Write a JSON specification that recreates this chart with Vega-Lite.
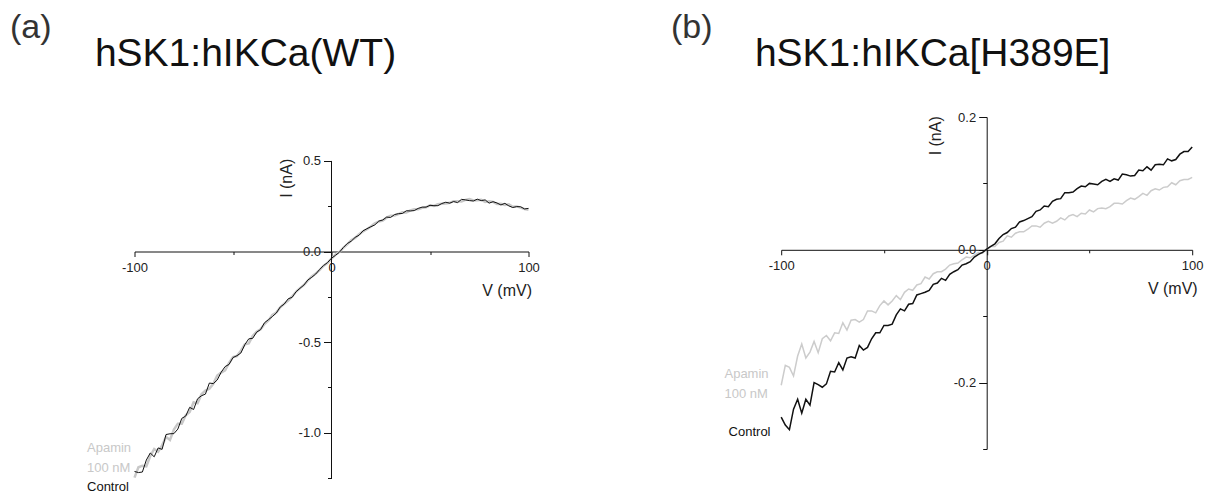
{
  "$schema": "https://vega.github.io/schema/vega-lite/v6.json",
  "padding": {"left": 9.5, "top": 11, "right": 5, "bottom": 0},
  "background": "white",
  "config": {
    "view": {"stroke": null},
    "axis": {"grid": false, "domainColor": "#111111", "tickColor": "#111111", "labelColor": "#222222", "titleColor": "#222222", "labelFont": "Liberation Sans", "titleFont": "Liberation Sans", "labelFontSize": 13, "titleFontSize": 16, "titleFontWeight": "normal", "labelFlush": false, "labelOverlap": false, "domainWidth": 1, "tickWidth": 1},
    "text": {"font": "Liberation Sans"}
  },
  "datasets": {
    "a": [
      {"V": -100, "Control": -1.214, "Apamin": -1.248},
      {"V": -98, "Control": -1.220, "Apamin": -1.191},
      {"V": -96, "Control": -1.217, "Apamin": -1.182},
      {"V": -94, "Control": -1.151, "Apamin": -1.186},
      {"V": -92, "Control": -1.112, "Apamin": -1.129},
      {"V": -90, "Control": -1.133, "Apamin": -1.090},
      {"V": -88, "Control": -1.084, "Apamin": -1.105},
      {"V": -86, "Control": -1.092, "Apamin": -1.070},
      {"V": -84, "Control": -1.010, "Apamin": -1.023},
      {"V": -82, "Control": -1.006, "Apamin": -1.040},
      {"V": -80, "Control": -1.005, "Apamin": -0.983},
      {"V": -78, "Control": -0.980, "Apamin": -0.950},
      {"V": -76, "Control": -0.921, "Apamin": -0.950},
      {"V": -74, "Control": -0.908, "Apamin": -0.904},
      {"V": -72, "Control": -0.860, "Apamin": -0.886},
      {"V": -70, "Control": -0.872, "Apamin": -0.832},
      {"V": -68, "Control": -0.813, "Apamin": -0.838},
      {"V": -66, "Control": -0.796, "Apamin": -0.788},
      {"V": -64, "Control": -0.787, "Apamin": -0.768},
      {"V": -62, "Control": -0.726, "Apamin": -0.758},
      {"V": -60, "Control": -0.729, "Apamin": -0.730},
      {"V": -58, "Control": -0.709, "Apamin": -0.685},
      {"V": -56, "Control": -0.666, "Apamin": -0.668},
      {"V": -54, "Control": -0.635, "Apamin": -0.656},
      {"V": -52, "Control": -0.623, "Apamin": -0.615},
      {"V": -50, "Control": -0.585, "Apamin": -0.583},
      {"V": -48, "Control": -0.575, "Apamin": -0.577},
      {"V": -46, "Control": -0.560, "Apamin": -0.547},
      {"V": -44, "Control": -0.514, "Apamin": -0.512},
      {"V": -42, "Control": -0.482, "Apamin": -0.507},
      {"V": -40, "Control": -0.479, "Apamin": -0.466},
      {"V": -38, "Control": -0.445, "Apamin": -0.443},
      {"V": -36, "Control": -0.431, "Apamin": -0.429},
      {"V": -34, "Control": -0.393, "Apamin": -0.400},
      {"V": -32, "Control": -0.376, "Apamin": -0.380},
      {"V": -30, "Control": -0.359, "Apamin": -0.350},
      {"V": -28, "Control": -0.339, "Apamin": -0.337},
      {"V": -26, "Control": -0.306, "Apamin": -0.308},
      {"V": -24, "Control": -0.290, "Apamin": -0.288},
      {"V": -22, "Control": -0.261, "Apamin": -0.271},
      {"V": -20, "Control": -0.253, "Apamin": -0.248},
      {"V": -18, "Control": -0.222, "Apamin": -0.222},
      {"V": -16, "Control": -0.203, "Apamin": -0.202},
      {"V": -14, "Control": -0.185, "Apamin": -0.185},
      {"V": -12, "Control": -0.157, "Apamin": -0.160},
      {"V": -10, "Control": -0.142, "Apamin": -0.137},
      {"V": -8, "Control": -0.124, "Apamin": -0.122},
      {"V": -6, "Control": -0.099, "Apamin": -0.101},
      {"V": -4, "Control": -0.077, "Apamin": -0.078},
      {"V": -2, "Control": -0.061, "Apamin": -0.063},
      {"V": 0, "Control": -0.037, "Apamin": -0.039},
      {"V": 2, "Control": -0.021, "Apamin": -0.018},
      {"V": 4, "Control": -0.004, "Apamin": -0.002},
      {"V": 6, "Control": 0.022, "Apamin": 0.020},
      {"V": 8, "Control": 0.044, "Apamin": 0.039},
      {"V": 10, "Control": 0.057, "Apamin": 0.062},
      {"V": 12, "Control": 0.078, "Apamin": 0.075},
      {"V": 14, "Control": 0.090, "Apamin": 0.096},
      {"V": 16, "Control": 0.114, "Apamin": 0.111},
      {"V": 18, "Control": 0.126, "Apamin": 0.123},
      {"V": 20, "Control": 0.137, "Apamin": 0.138},
      {"V": 22, "Control": 0.147, "Apamin": 0.155},
      {"V": 24, "Control": 0.168, "Apamin": 0.165},
      {"V": 26, "Control": 0.174, "Apamin": 0.171},
      {"V": 28, "Control": 0.190, "Apamin": 0.187},
      {"V": 30, "Control": 0.188, "Apamin": 0.198},
      {"V": 32, "Control": 0.204, "Apamin": 0.199},
      {"V": 34, "Control": 0.209, "Apamin": 0.207},
      {"V": 36, "Control": 0.210, "Apamin": 0.217},
      {"V": 38, "Control": 0.225, "Apamin": 0.216},
      {"V": 40, "Control": 0.224, "Apamin": 0.227},
      {"V": 42, "Control": 0.226, "Apamin": 0.233},
      {"V": 44, "Control": 0.238, "Apamin": 0.233},
      {"V": 46, "Control": 0.245, "Apamin": 0.241},
      {"V": 48, "Control": 0.245, "Apamin": 0.244},
      {"V": 50, "Control": 0.255, "Apamin": 0.255},
      {"V": 52, "Control": 0.253, "Apamin": 0.252},
      {"V": 54, "Control": 0.253, "Apamin": 0.261},
      {"V": 56, "Control": 0.265, "Apamin": 0.264},
      {"V": 58, "Control": 0.272, "Apamin": 0.265},
      {"V": 60, "Control": 0.267, "Apamin": 0.269},
      {"V": 62, "Control": 0.276, "Apamin": 0.278},
      {"V": 64, "Control": 0.270, "Apamin": 0.278},
      {"V": 66, "Control": 0.288, "Apamin": 0.276},
      {"V": 68, "Control": 0.285, "Apamin": 0.285},
      {"V": 70, "Control": 0.281, "Apamin": 0.290},
      {"V": 72, "Control": 0.279, "Apamin": 0.282},
      {"V": 74, "Control": 0.289, "Apamin": 0.283},
      {"V": 76, "Control": 0.281, "Apamin": 0.286},
      {"V": 78, "Control": 0.285, "Apamin": 0.274},
      {"V": 80, "Control": 0.267, "Apamin": 0.277},
      {"V": 82, "Control": 0.275, "Apamin": 0.274},
      {"V": 84, "Control": 0.268, "Apamin": 0.263},
      {"V": 86, "Control": 0.257, "Apamin": 0.264},
      {"V": 88, "Control": 0.266, "Apamin": 0.257},
      {"V": 90, "Control": 0.252, "Apamin": 0.260},
      {"V": 92, "Control": 0.243, "Apamin": 0.247},
      {"V": 94, "Control": 0.248, "Apamin": 0.249},
      {"V": 96, "Control": 0.247, "Apamin": 0.242},
      {"V": 98, "Control": 0.235, "Apamin": 0.234},
      {"V": 100, "Control": 0.238, "Apamin": 0.230}
    ],
    "b": [
      {"V": -100, "Control": -0.252, "Apamin": -0.204},
      {"V": -98, "Control": -0.264, "Apamin": -0.174},
      {"V": -96, "Control": -0.271, "Apamin": -0.177},
      {"V": -94, "Control": -0.240, "Apamin": -0.190},
      {"V": -92, "Control": -0.225, "Apamin": -0.160},
      {"V": -90, "Control": -0.246, "Apamin": -0.142},
      {"V": -88, "Control": -0.225, "Apamin": -0.163},
      {"V": -86, "Control": -0.234, "Apamin": -0.154},
      {"V": -84, "Control": -0.200, "Apamin": -0.138},
      {"V": -82, "Control": -0.203, "Apamin": -0.155},
      {"V": -80, "Control": -0.207, "Apamin": -0.134},
      {"V": -78, "Control": -0.202, "Apamin": -0.129},
      {"V": -76, "Control": -0.183, "Apamin": -0.137},
      {"V": -74, "Control": -0.184, "Apamin": -0.125},
      {"V": -72, "Control": -0.170, "Apamin": -0.126},
      {"V": -70, "Control": -0.181, "Apamin": -0.110},
      {"V": -68, "Control": -0.163, "Apamin": -0.121},
      {"V": -66, "Control": -0.161, "Apamin": -0.106},
      {"V": -64, "Control": -0.163, "Apamin": -0.105},
      {"V": -62, "Control": -0.144, "Apamin": -0.109},
      {"V": -60, "Control": -0.151, "Apamin": -0.105},
      {"V": -58, "Control": -0.147, "Apamin": -0.092},
      {"V": -56, "Control": -0.134, "Apamin": -0.092},
      {"V": -54, "Control": -0.125, "Apamin": -0.095},
      {"V": -52, "Control": -0.125, "Apamin": -0.084},
      {"V": -50, "Control": -0.114, "Apamin": -0.077},
      {"V": -48, "Control": -0.114, "Apamin": -0.083},
      {"V": -46, "Control": -0.112, "Apamin": -0.077},
      {"V": -44, "Control": -0.098, "Apamin": -0.069},
      {"V": -42, "Control": -0.089, "Apamin": -0.075},
      {"V": -40, "Control": -0.092, "Apamin": -0.064},
      {"V": -38, "Control": -0.082, "Apamin": -0.059},
      {"V": -36, "Control": -0.081, "Apamin": -0.061},
      {"V": -34, "Control": -0.068, "Apamin": -0.053},
      {"V": -32, "Control": -0.066, "Apamin": -0.051},
      {"V": -30, "Control": -0.064, "Apamin": -0.041},
      {"V": -28, "Control": -0.061, "Apamin": -0.044},
      {"V": -26, "Control": -0.052, "Apamin": -0.036},
      {"V": -24, "Control": -0.050, "Apamin": -0.033},
      {"V": -22, "Control": -0.043, "Apamin": -0.033},
      {"V": -20, "Control": -0.046, "Apamin": -0.029},
      {"V": -18, "Control": -0.037, "Apamin": -0.023},
      {"V": -16, "Control": -0.033, "Apamin": -0.021},
      {"V": -14, "Control": -0.030, "Apamin": -0.020},
      {"V": -12, "Control": -0.023, "Apamin": -0.015},
      {"V": -10, "Control": -0.021, "Apamin": -0.011},
      {"V": -8, "Control": -0.018, "Apamin": -0.012},
      {"V": -6, "Control": -0.011, "Apamin": -0.008},
      {"V": -4, "Control": -0.007, "Apamin": -0.004},
      {"V": -2, "Control": -0.004, "Apamin": -0.005},
      {"V": 0, "Control": 0.001, "Apamin": 0.001},
      {"V": 2, "Control": 0.005, "Apamin": 0.005},
      {"V": 4, "Control": 0.009, "Apamin": 0.005},
      {"V": 6, "Control": 0.017, "Apamin": 0.011},
      {"V": 8, "Control": 0.023, "Apamin": 0.013},
      {"V": 10, "Control": 0.026, "Apamin": 0.021},
      {"V": 12, "Control": 0.032, "Apamin": 0.019},
      {"V": 14, "Control": 0.034, "Apamin": 0.025},
      {"V": 16, "Control": 0.042, "Apamin": 0.027},
      {"V": 18, "Control": 0.044, "Apamin": 0.027},
      {"V": 20, "Control": 0.047, "Apamin": 0.031},
      {"V": 22, "Control": 0.050, "Apamin": 0.036},
      {"V": 24, "Control": 0.058, "Apamin": 0.036},
      {"V": 26, "Control": 0.060, "Apamin": 0.034},
      {"V": 28, "Control": 0.066, "Apamin": 0.040},
      {"V": 30, "Control": 0.065, "Apamin": 0.043},
      {"V": 32, "Control": 0.073, "Apamin": 0.040},
      {"V": 34, "Control": 0.076, "Apamin": 0.043},
      {"V": 36, "Control": 0.077, "Apamin": 0.048},
      {"V": 38, "Control": 0.086, "Apamin": 0.045},
      {"V": 40, "Control": 0.086, "Apamin": 0.051},
      {"V": 42, "Control": 0.087, "Apamin": 0.053},
      {"V": 44, "Control": 0.092, "Apamin": 0.050},
      {"V": 46, "Control": 0.096, "Apamin": 0.055},
      {"V": 48, "Control": 0.095, "Apamin": 0.054},
      {"V": 50, "Control": 0.100, "Apamin": 0.060},
      {"V": 52, "Control": 0.099, "Apamin": 0.057},
      {"V": 54, "Control": 0.098, "Apamin": 0.062},
      {"V": 56, "Control": 0.103, "Apamin": 0.063},
      {"V": 58, "Control": 0.106, "Apamin": 0.062},
      {"V": 60, "Control": 0.103, "Apamin": 0.065},
      {"V": 62, "Control": 0.107, "Apamin": 0.070},
      {"V": 64, "Control": 0.105, "Apamin": 0.070},
      {"V": 66, "Control": 0.114, "Apamin": 0.069},
      {"V": 68, "Control": 0.113, "Apamin": 0.074},
      {"V": 70, "Control": 0.111, "Apamin": 0.078},
      {"V": 72, "Control": 0.112, "Apamin": 0.076},
      {"V": 74, "Control": 0.120, "Apamin": 0.080},
      {"V": 76, "Control": 0.119, "Apamin": 0.085},
      {"V": 78, "Control": 0.125, "Apamin": 0.082},
      {"V": 80, "Control": 0.120, "Apamin": 0.089},
      {"V": 82, "Control": 0.128, "Apamin": 0.092},
      {"V": 84, "Control": 0.129, "Apamin": 0.090},
      {"V": 86, "Control": 0.128, "Apamin": 0.094},
      {"V": 88, "Control": 0.137, "Apamin": 0.095},
      {"V": 90, "Control": 0.134, "Apamin": 0.101},
      {"V": 92, "Control": 0.136, "Apamin": 0.098},
      {"V": 94, "Control": 0.144, "Apamin": 0.104},
      {"V": 96, "Control": 0.148, "Apamin": 0.106},
      {"V": 98, "Control": 0.148, "Apamin": 0.106},
      {"V": 100, "Control": 0.155, "Apamin": 0.109}
    ]
  },
  "bounds": "flush",
  "spacing": 252.7,
  "hconcat": [
    {
      "width": 394,
      "height": 361,
      "layer": [
        {
          "data": {"name": "a"},
          "mark": {"type": "line", "color": "#c8c8c8", "strokeWidth": 2.5},
          "encoding": {
            "x": {"field": "V", "type": "quantitative", "scale": {"domain": [-100, 100], "nice": false, "zero": false},
              "axis": {"orient": "bottom", "offset": -226.5, "values": [-100, -50, 0, 50, 100],
                "labelExpr": "datum.value === -100 ? '-100' : datum.value === 0 ? '0' : datum.value === 100 ? '100' : ''",
                "tickSize": {"condition": {"test": "abs(datum.value) === 50", "value": 3}, "value": 5},
                "labelPadding": 5, "title": "V (mV)", "titleX": 397, "titleY": 39, "titleAlign": "right", "titleBaseline": "middle", "titleAngle": 0}},
            "y": {"field": "Apamin", "type": "quantitative", "scale": {"domain": [-1.25, 0.7425], "nice": false, "zero": false},
              "axis": {"orient": "left", "offset": -197, "domain": false, "values": [0.5, 0.25, 0, -0.25, -0.5, -0.75, -1, -1.25],
                "labelExpr": "datum.value === 0.5 ? '0.5' : datum.value === 0 ? '0.0' : datum.value === -0.5 ? '-0.5' : datum.value === -1 ? '-1.0' : ''",
                "tickSize": {"condition": {"test": "indexof([0.25, -0.25, -0.75, -1.25], datum.value) >= 0", "value": 4}, "value": 8},
                "labelPadding": 3, "title": "I (nA)", "titleX": -45, "titleY": 60.8, "titleAngle": -90, "titleAlign": "center", "titleBaseline": "middle"}}
          }
        },
        {
          "data": {"name": "a"},
          "mark": {"type": "line", "color": "#111111", "strokeWidth": 1},
          "encoding": {
            "x": {"field": "V", "type": "quantitative"},
            "y": {"field": "Control", "type": "quantitative"}
          }
        },
        {
          "data": {"values": [{}]},
          "mark": {"type": "rule", "color": "#111111", "strokeWidth": 1},
          "encoding": {
            "x": {"datum": 0, "type": "quantitative"},
            "y": {"datum": -1.25, "type": "quantitative"},
            "y2": {"datum": 0.5}
          }
        },
        {
          "data": {"values": [{}]},
          "mark": {"type": "text", "text": "(a)", "fontSize": 34, "color": "#333333", "align": "left", "baseline": "alphabetic"},
          "encoding": {"x": {"datum": -163.2, "type": "quantitative"}, "y": {"datum": 1.1768, "type": "quantitative"}}
        },
        {
          "data": {"values": [{}]},
          "mark": {"type": "text", "text": "hSK1:hIKCa(WT)", "fontSize": 39, "color": "#111111", "align": "left", "baseline": "alphabetic"},
          "encoding": {"x": {"datum": -120.1, "type": "quantitative"}, "y": {"datum": 1.024, "type": "quantitative"}}
        },
        {
          "data": {"values": [{}]},
          "mark": {"type": "text", "text": "Apamin", "fontSize": 13, "color": "#c8c8c8", "align": "left", "baseline": "middle"},
          "encoding": {"x": {"datum": -124.1, "type": "quantitative"}, "y": {"datum": -1.0859, "type": "quantitative"}}
        },
        {
          "data": {"values": [{}]},
          "mark": {"type": "text", "text": "100 nM", "fontSize": 13, "color": "#c8c8c8", "align": "left", "baseline": "middle"},
          "encoding": {"x": {"datum": -124.1, "type": "quantitative"}, "y": {"datum": -1.1963, "type": "quantitative"}}
        },
        {
          "data": {"values": [{}]},
          "mark": {"type": "text", "text": "Control", "fontSize": 13, "color": "#111111", "align": "left", "baseline": "middle"},
          "encoding": {"x": {"datum": -124.1, "type": "quantitative"}, "y": {"datum": -1.2983, "type": "quantitative"}}
        }
      ]
    },
    {
      "width": 411,
      "height": 332,
      "layer": [
        {
          "data": {"name": "b"},
          "mark": {"type": "line", "color": "#cccccc", "strokeWidth": 1.5},
          "encoding": {
            "x": {"field": "V", "type": "quantitative", "scale": {"domain": [-100, 100], "nice": false, "zero": false},
              "axis": {"orient": "bottom", "offset": -199.2, "values": [-100, -50, 0, 50, 100],
                "labelExpr": "datum.value === -100 ? '-100' : datum.value === 0 ? '0' : datum.value === 100 ? '100' : ''",
                "tickSize": {"condition": {"test": "abs(datum.value) === 50", "value": 3}, "value": 5},
                "labelPadding": 5, "title": "V (mV)", "titleX": 416, "titleY": 39, "titleAlign": "right", "titleBaseline": "middle", "titleAngle": 0}},
            "y": {"field": "Apamin", "type": "quantitative", "scale": {"domain": [-0.3, 0.2], "nice": false, "zero": false},
              "axis": {"orient": "left", "offset": -205.5, "values": [0.2, 0.1, 0, -0.1, -0.2, -0.3],
                "labelExpr": "datum.value === 0.2 ? '0.2' : datum.value === 0 ? '0.0' : datum.value === -0.2 ? '-0.2' : ''",
                "tickSize": {"condition": {"test": "indexof([0.1, -0.1, -0.3], datum.value) >= 0", "value": 4}, "value": 8},
                "labelPadding": 3, "title": "I (nA)", "titleX": -51, "titleY": 18.3, "titleAngle": -90, "titleAlign": "center", "titleBaseline": "middle"}}
          }
        },
        {
          "data": {"name": "b"},
          "mark": {"type": "line", "color": "#111111", "strokeWidth": 1.5},
          "encoding": {
            "x": {"field": "V", "type": "quantitative"},
            "y": {"field": "Control", "type": "quantitative"}
          }
        },
        {
          "data": {"values": [{}]},
          "mark": {"type": "text", "text": "(b)", "fontSize": 34, "color": "#333333", "align": "left", "baseline": "alphabetic"},
          "encoding": {"x": {"datum": -153.6, "type": "quantitative"}, "y": {"datum": 0.3185, "type": "quantitative"}}
        },
        {
          "data": {"values": [{}]},
          "mark": {"type": "text", "text": "hSK1:hIKCa[H389E]", "fontSize": 39, "color": "#111111", "align": "left", "baseline": "alphabetic"},
          "encoding": {"x": {"datum": -112.8, "type": "quantitative"}, "y": {"datum": 0.2768, "type": "quantitative"}}
        },
        {
          "data": {"values": [{}]},
          "mark": {"type": "text", "text": "Apamin", "fontSize": 13, "color": "#c8c8c8", "align": "left", "baseline": "middle"},
          "encoding": {"x": {"datum": -127.6, "type": "quantitative"}, "y": {"datum": -0.1875, "type": "quantitative"}}
        },
        {
          "data": {"values": [{}]},
          "mark": {"type": "text", "text": "100 nM", "fontSize": 13, "color": "#c8c8c8", "align": "left", "baseline": "middle"},
          "encoding": {"x": {"datum": -127.6, "type": "quantitative"}, "y": {"datum": -0.2176, "type": "quantitative"}}
        },
        {
          "data": {"values": [{}]},
          "mark": {"type": "text", "text": "Control", "fontSize": 13, "color": "#111111", "align": "left", "baseline": "middle"},
          "encoding": {"x": {"datum": -125.6, "type": "quantitative"}, "y": {"datum": -0.2749, "type": "quantitative"}}
        }
      ]
    }
  ]
}
